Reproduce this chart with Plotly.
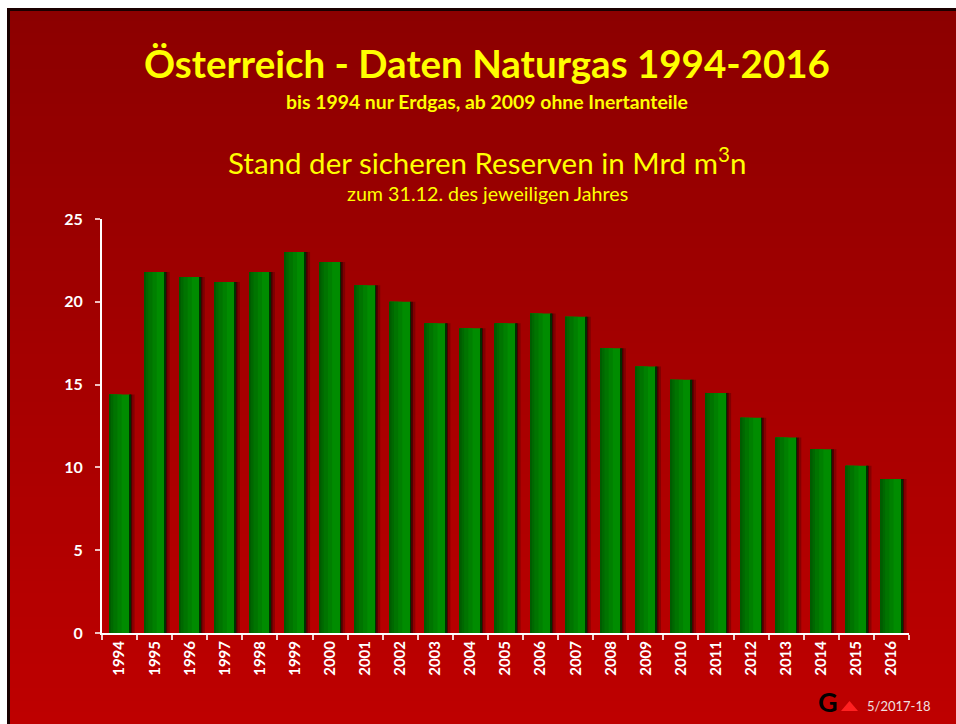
import plotly.graph_objects as go

years = [str(y) for y in range(1994, 2017)]
reserves = [14.4, 21.8, 21.5, 21.2, 21.8, 23.0, 22.4, 21.0, 20.0, 18.7, 18.4, 18.7,
            19.3, 19.1, 17.2, 16.1, 15.3, 14.5, 13.0, 11.8, 11.1, 10.1, 9.3]
y_ticks = [0, 5, 10, 15, 20, 25]

title_main = "Österreich - Daten Naturgas 1994-2016"
title_sub = "bis 1994 nur Erdgas, ab 2009 ohne Inertanteile"
chart_title = "Stand der sicheren Reserven in Mrd m<sup>3</sup>n"
chart_sub = "zum 31.12. des jeweiligen Jahres"
footer = "5/2017-18"

W, H = 956, 724
L, R, T, B = 102, 47, 219, 91
PW, PH = W - L - R, H - T - B

def px(x):  # page pixel -> paper fraction
    return (x - L) / PW

def py(y):
    return (H - B - y) / PH

FONT = "Lato, 'Open Sans', sans-serif"

fig = go.Figure()

# shadow
fig.add_trace(go.Bar(x=years, y=reserves, offset=0.3, width=0.13,
                     marker=dict(color="rgba(60,0,0,0.35)", line_width=0), hoverinfo="skip"))
fig.add_trace(go.Bar(x=years, y=reserves, offset=0.3, width=0.06,
                     marker=dict(color="rgba(0,0,0,0.45)", line_width=0), hoverinfo="skip"))
# gradient bars (dark left -> bright right)
strips = [(0.6, "#008c00"), (0.36, "#008000"), (0.24, "#007400"), (0.12, "#006800"), (0.05, "#005c00")]
for w, c in strips:
    fig.add_trace(go.Bar(x=years, y=reserves, offset=-0.3, width=w,
                         marker=dict(color=c, line_width=0), hoverinfo="skip"))
fig.add_trace(go.Bar(x=years, y=reserves, offset=0.285, width=0.02,
                     marker=dict(color="#003000", line_width=0), hoverinfo="skip"))

shapes = []
top_c = (140, 0, 0)
bot_c = (190, 0, 0)
y0, y1 = 9, H
n = 60
for i in range(n):
    a = y0 + (y1 - y0) * i / n
    b = min(H, y0 + (y1 - y0) * (i + 1) / n + 3)
    t = i / (n - 1)
    col = "rgb(%d,%d,%d)" % tuple(round(top_c[k] + (bot_c[k] - top_c[k]) * t) for k in range(3))
    shapes.append(dict(type="rect", xref="paper", yref="paper", layer="below",
                       x0=px(8), x1=px(W), y0=py(a), y1=py(b),
                       fillcolor=col, line_width=0))
# top and left frame lines
shapes.append(dict(type="line", xref="paper", yref="paper", layer="below",
                   x0=px(7), x1=px(W), y0=py(9.5), y1=py(9.5),
                   line=dict(color="#1a0000", width=3)))
shapes.append(dict(type="line", xref="paper", yref="paper", layer="below",
                   x0=px(8.5), x1=px(8.5), y0=py(8), y1=py(H),
                   line=dict(color="#1a0000", width=3)))
shapes.append(dict(type="path", xref="paper", yref="paper",
                   path="M %f %f L %f %f L %f %f Z" % (px(841), py(711), px(858), py(711), px(849.5), py(701)),
                   fillcolor="#ff2020", line_width=0))

def ann(text, x, y, size, color="#ffff00", weight="normal", xanchor="center"):
    return dict(text=text, x=px(x), y=py(y), xref="paper", yref="paper", showarrow=False,
                font=dict(family=FONT, size=size, color=color, weight=weight),
                xanchor=xanchor, yanchor="middle")

annotations = [
    ann(title_main, 487, 63, 38.5, weight="bold"),
    ann(title_sub, 487, 101, 19.4, weight="bold"),
    ann(chart_title, 487, 161, 29.5),
    ann(chart_sub, 487, 194, 19.7),
    ann(footer, 865, 706, 13, color="#f0e0e0", xanchor="left"),
    ann("G", 828, 701, 27, color="#000000", weight="bold"),
]

fig.update_layout(
    width=W, height=H,
    margin=dict(l=L, r=R, t=T, b=B, autoexpand=False),
    paper_bgcolor="#ffffff",
    plot_bgcolor="rgba(0,0,0,0)",
    barmode="overlay",
    showlegend=False,
    shapes=shapes,
    annotations=annotations,
    font=dict(family=FONT, color="#ffffff"),
    xaxis=dict(type="category", tickangle=-90, showgrid=False, showline=True, linecolor="#ffffff",
               linewidth=2, ticks="outside", tickson="boundaries", ticklen=5, tickcolor="#f0d0d0",
               tickwidth=1.5, tickfont=dict(family=FONT, size=15, color="#ffffff", weight="bold"),
               range=[-0.5, len(years) - 0.5], fixedrange=True),
    yaxis=dict(range=[0, 25], tickvals=y_ticks, showgrid=False, zeroline=False, showline=True,
               linecolor="#ffffff", linewidth=2, ticks="outside", ticklen=5, tickcolor="#f0c0c0",
               tickwidth=1.5, tickfont=dict(family=FONT, size=16, color="#ffffff", weight="bold"),
               ticklabelstandoff=9),
)

fig.write_html("out.html", config={"displayModeBar": False},
               post_script="document.body.style.margin='0';document.body.style.overflow='hidden';")
